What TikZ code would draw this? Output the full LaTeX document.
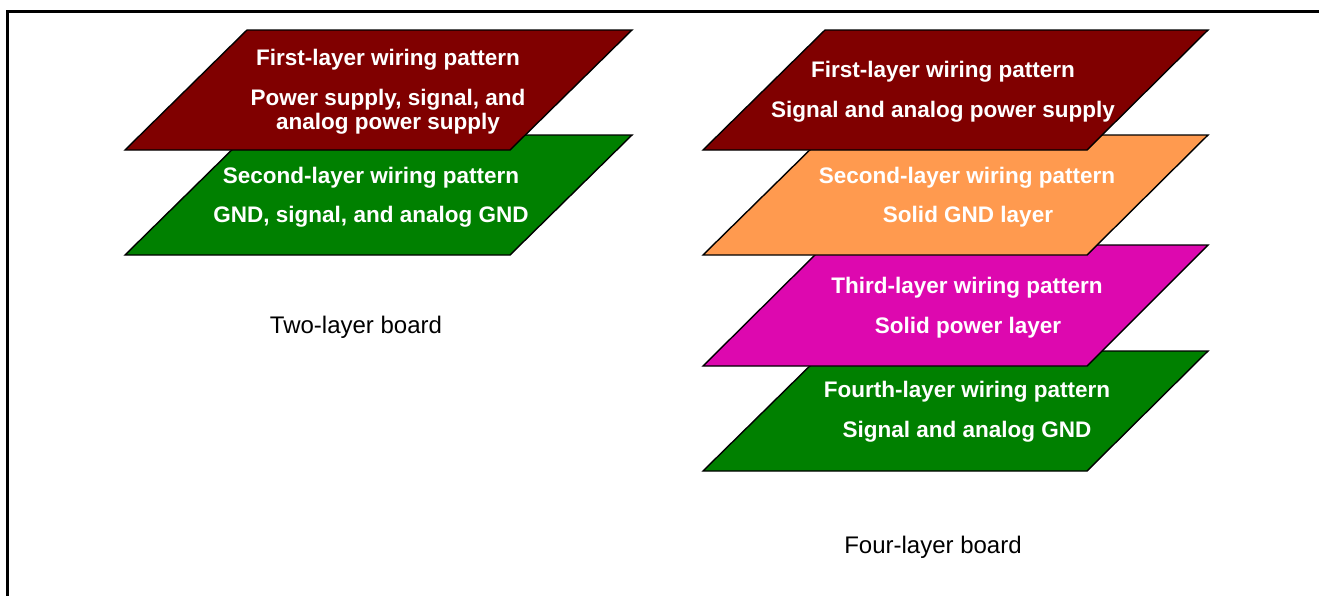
\documentclass[tikz,border=0pt]{standalone}
\usepackage{fontspec}
\setmainfont{Liberation Sans}
\usepackage{xcolor}
\usepackage{tikz}
\usetikzlibrary{positioning}
\definecolor{boardred}{HTML}{800000}
\definecolor{boardgreen}{HTML}{008000}
\definecolor{boardorange}{HTML}{FF9A4F}
\definecolor{boardmagenta}{HTML}{DD08AF}

\begin{document}
\begin{tikzpicture}[x=1pt, y=-1pt,
layer/.style={draw=black, line width=1.4pt, line join=miter},
txt/.style={text=white, font=\fontsize{22.5}{24}\selectfont\bfseries, align=center, inner sep=0pt},
boardname/.style={text=black, font=\fontsize{24}{26}\selectfont, inner sep=0pt}]
\useasboundingbox (0,0) rectangle (1319,595);
\draw[line width=3pt] (7,600) -- (7,11) -- (1330,11);
% two-layer board
\filldraw[layer, fill=boardgreen] (125,255) -- (247,135) -- (632,135) -- (510,255) -- cycle;
\filldraw[layer, fill=boardred] (125,150) -- (247,30) -- (632,30) -- (510,150) -- cycle;
\node[txt] (t-1-a) at (388,60) {First-layer wiring pattern};
\node[txt] (t-1-b) at (388,112) {Power supply, signal, and\\analog power supply};
\node[txt] (t-2-a) at (371,178) {Second-layer wiring pattern};
\node[txt] (t-2-b) at (371,217) {GND, signal, and analog GND};
\node[boardname] (t-name) at (356,327) {Two-layer board};
% four-layer board
\filldraw[layer, fill=boardgreen] (703,471) -- (825,351) -- (1208,351) -- (1087,471) -- cycle;
\filldraw[layer, fill=boardmagenta] (703,366) -- (825,245) -- (1208,245) -- (1087,366) -- cycle;
\filldraw[layer, fill=boardorange] (703,255) -- (825,135) -- (1208,135) -- (1087,255) -- cycle;
\filldraw[layer, fill=boardred] (703,150) -- (825,30) -- (1208,30) -- (1087,150) -- cycle;
\node[txt] (f-1-a) at (943,72) {First-layer wiring pattern};
\node[txt] (f-1-b) at (943,112) {Signal and analog power supply};
\node[txt] (f-2-a) at (967,178) {Second-layer wiring pattern};
\node[txt] (f-2-b) at (968,217) {Solid GND layer};
\node[txt] (f-3-a) at (967,288) {Third-layer wiring pattern};
\node[txt] (f-3-b) at (968,328) {Solid power layer};
\node[txt] (f-4-a) at (967,392) {Fourth-layer wiring pattern};
\node[txt] (f-4-b) at (967,432) {Signal and analog GND};
\node[boardname] (f-name) at (933,547) {Four-layer board};
\end{tikzpicture}
\end{document}
